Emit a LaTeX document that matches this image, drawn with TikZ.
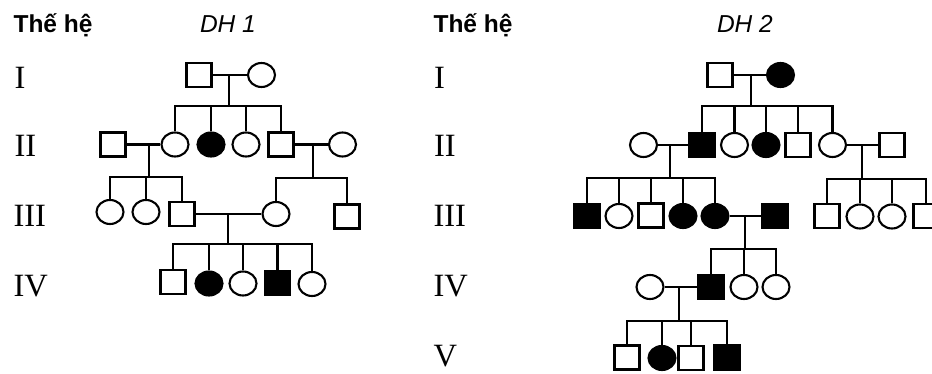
\documentclass[tikz,border=0pt]{standalone}
\usepackage{fontspec}
\setmainfont{Liberation Serif}
\newfontfamily\arialf{Liberation Sans}
\usetikzlibrary{shapes.geometric}
\begin{document}
\begin{tikzpicture}[x=1pt,y=-1pt,line width=2.1pt,
  male/.style={draw,rectangle,minimum width=25pt,minimum height=24pt,inner sep=0pt},
  fem/.style={draw,ellipse,minimum width=27pt,minimum height=24pt,inner sep=0pt},
  aff/.style={fill=black},
  gen/.style={anchor=base west,inner sep=0pt,font=\fontsize{32.5}{36}\selectfont},
  head/.style={anchor=base west,inner sep=0pt,font=\arialf\bfseries\fontsize{24.5}{28}\selectfont},
  title/.style={anchor=base west,inner sep=0pt,font=\arialf\itshape\fontsize{24.5}{28}\selectfont}]
\useasboundingbox (0,0) rectangle (932,374);
\clip (0,0) rectangle (932,374);
% headers
\node[head] (h1) at (12.5,33) {Thế hệ};
\node[title] (t1) at (199,33) {DH 1};
\node[head] (h2) at (432.5,33) {Thế hệ};
\node[title] (t2) at (716,33) {DH 2};
% generation labels
\node[gen] (la1) at (13.5,89) {I};
\node[gen] (la2) at (13.5,157) {II};
\node[gen] (la3) at (12.5,227) {III};
\node[gen] (la4) at (12.5,296) {IV};
\node[gen] (lb1) at (433,89) {I};
\node[gen] (lb2) at (433,157) {II};
\node[gen] (lb3) at (432.5,227) {III};
\node[gen] (lb4) at (432.5,297) {IV};
\node[gen] (lb5) at (432.5,366.5) {V};
% ===== DH 1 =====
\node[male] (a1) at (199,75) {};
\node[fem]  (a2) at (261.5,75) {};
\node[male] (b1) at (113,144.5) {};
\node[fem]  (b2) at (175,144.5) {};
\node[fem,aff] (b3) at (211,144.5) {};
\node[fem]  (b4) at (246,144.5) {};
\node[male] (b5) at (281,144.5) {};
\node[fem]  (b6) at (342.5,144.5) {};
\node[fem]  (c1) at (110,212) {};
\node[fem]  (c2) at (146,212) {};
\node[male] (c3) at (182,214) {};
\node[fem]  (c4) at (276,214) {};
\node[male] (c5) at (347,216.5) {};
\node[male] (d1) at (173,282) {};
\node[fem,aff] (d2) at (209,283.5) {};
\node[fem]  (d3) at (243,283.5) {};
\node[male,aff] (d4) at (277.5,283) {};
\node[fem]  (d5) at (312,284) {};
% family I
\draw (a1) -- (a2);
\coordinate (pa) at (229,75); \coordinate (sa) at (229,106);
\draw (pa) -- (sa);
\draw (b2) |- (sa) -| (b5);
\draw (b3 |- sa) -- (b3);
\draw (b4 |- sa) -- (b4);
% family II left
\draw (b1) -- (b2);
\coordinate (pb) at (149,144.5); \coordinate (sb) at (149,177);
\draw (pb) -- (sb);
\draw (c1) |- (sb) -| (c3);
\draw (c2 |- sb) -- (c2);
% family II right
\draw (b5) -- (b6);
\coordinate (pc) at (313,144.5); \coordinate (sc) at (313,178);
\draw (pc) -- (sc);
\draw (c4) |- (sc) -| (c5);
% family III
\draw (c3) -- (c4);
\coordinate (pd) at (228,214); \coordinate (sd) at (228,244);
\draw (pd) -- (sd);
\draw (d1) |- (sd) -| (d5);
\draw (d2 |- sd) -- (d2);
\draw (d3 |- sd) -- (d3);
\draw (d4 |- sd) -- (d4);
% ===== DH 2 =====
\node[male] (e1) at (720,75) {};
\node[fem,aff] (e2) at (780.5,75) {};
\node[fem]  (f1) at (643.5,145) {};
\node[male,aff] (f2) at (702,145) {};
\node[fem]  (f3) at (734.5,145) {};
\node[fem,aff] (f4) at (766,145) {};
\node[male] (f5) at (798,145) {};
\node[fem]  (f6) at (832.5,145) {};
\node[male] (f7) at (892,145) {};
\node[male,aff] (g1) at (587,216) {};
\node[fem]  (g2) at (619,216) {};
\node[male] (g3) at (651,215.5) {};
\node[fem,aff] (g4) at (683,216) {};
\node[fem,aff] (g5) at (715,216) {};
\node[male,aff] (g6) at (775,216) {};
\node[male] (g7) at (827,216) {};
\node[fem]  (g8) at (860,216.5) {};
\node[fem]  (g9) at (892,216.5) {};
\node[male] (g10) at (926,216) {};
\node[fem]  (k1) at (650,287) {};
\node[male,aff] (k2) at (711,287) {};
\node[fem]  (k3) at (744,287) {};
\node[fem]  (k4) at (776,287) {};
\node[male] (i1) at (627,357.5) {};
\node[fem,aff] (i2) at (662,358) {};
\node[male] (i3) at (691,358) {};
\node[male,aff] (i4) at (727,357.5) {};
% family I
\draw (e1) -- (e2);
\coordinate (pe) at (751,75); \coordinate (se) at (751,106);
\draw (pe) -- (se);
\draw (f2) |- (se) -| (f6);
\draw (f3 |- se) -- (f3);
\draw (f4 |- se) -- (f4);
\draw (f5 |- se) -- (f5);
% family II left
\draw (f1) -- (f2);
\coordinate (pf) at (670,145); \coordinate (sf) at (670,178);
\draw (pf) -- (sf);
\draw (g1) |- (sf) -| (g5);
\draw (g2 |- sf) -- (g2);
\draw (g3 |- sf) -- (g3);
\draw (g4 |- sf) -- (g4);
% family II right
\draw (f6) -- (f7);
\coordinate (pg) at (862,145); \coordinate (sg) at (862,179);
\draw (pg) -- (sg);
\draw (g7) |- (sg) -| (g10);
\draw (g8 |- sg) -- (g8);
\draw (g9 |- sg) -- (g9);
% family III
\draw (g5) -- (g6);
\coordinate (ph) at (745,216); \coordinate (sh) at (745,249);
\draw (ph) -- (sh);
\draw (k2) |- (sh) -| (k4);
\draw (k3 |- sh) -- (k3);
% family IV
\draw (k1) -- (k2);
\coordinate (pk) at (679,287); \coordinate (sk) at (679,321);
\draw (pk) -- (sk);
\draw (i1) |- (sk) -| (i4);
\draw (i2 |- sk) -- (i2);
\draw (i3 |- sk) -- (i3);
\end{tikzpicture}
\end{document}
